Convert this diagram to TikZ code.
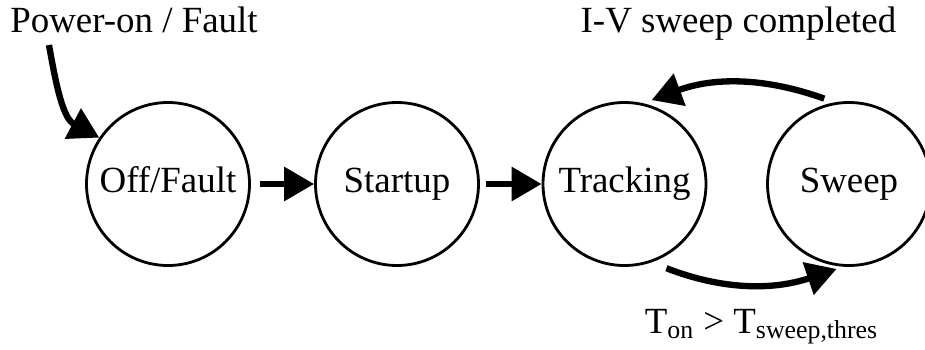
\documentclass[tikz,border=0pt]{standalone}
\usepackage{fontspec}
\setmainfont{Liberation Serif}
\usetikzlibrary{arrows.meta}
\tikzstyle{arrow} = [line width=3.6pt,-{Triangle[length=0.6cm,width=0.66cm]}]
\tikzstyle{state} = [draw, circle, line width=1.6pt, minimum size=3.26cm,
    inner sep=0pt, text height=15pt, text depth=5pt, font=\fontsize{21}{25}\selectfont]
\tikzstyle{txt} = [inner sep=0pt, font=\fontsize{21}{25}\selectfont]

\begin{document}
\begin{tikzpicture}
            \useasboundingbox (0,0) rectangle (18.5,6.98);
            \node[state] (off) at (3.36,3.30) {Off/Fault};
            \node[state] (startup) at (7.94,3.30) {Startup};
            \node[state] (tracking) at (12.49,3.30) {Tracking};
            \node[state] (sweep) at (16.98,3.30) {Sweep};

            \node[txt, anchor=base] (poweron) at (2.68,6.32) {Power-on / Fault};
            \node[txt, anchor=base] (ivdone) at (14.77,6.32) {I-V sweep completed};
            \node[txt, anchor=base] (tcond) at (15.23,0.32)
                {T\textsubscript{on} > T\textsubscript{sweep,thres}};

            \coordinate (pwrstart) at (0.98,6.08);
            \draw[arrow] (pwrstart) to[out=-80,in=152] (off.146);
            \draw[arrow, shorten <=0.18cm] (off) -- (startup);
            \draw[arrow, shorten <=0.12cm] (startup) -- (tracking);
            \draw[arrow, shorten <=0.22cm, shorten >=0.18cm]
                (sweep.100) to[bend right=20] (tracking.77);
            \draw[arrow, shorten <=0.32cm, shorten >=0.14cm]
                (tracking.-71) to[bend right=20] (sweep.-94);
        \end{tikzpicture}
\end{document}
